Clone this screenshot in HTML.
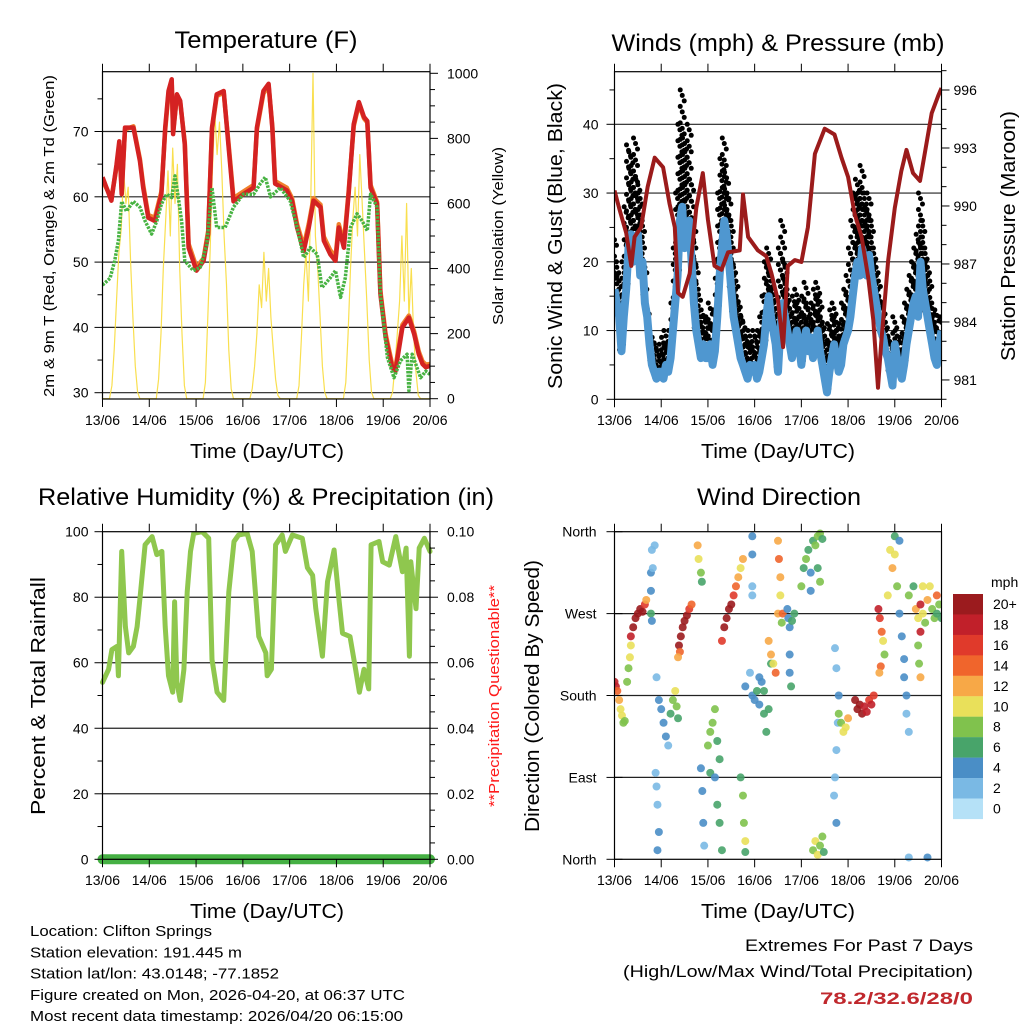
<!DOCTYPE html>
<html><head><meta charset="utf-8"><style>
html,body{margin:0;padding:0;background:#fff;}
svg{display:block;font-family:"Liberation Sans",Arial,sans-serif;}
</style></head><body>
<svg id="c" width="1024" height="1024" viewBox="0 0 1024 1024" xmlns="http://www.w3.org/2000/svg">
<defs>
<clipPath id="cpT"><rect x="102.5" y="71.7" width="327.5" height="327.3"/></clipPath>
<clipPath id="cpW"><rect x="614.5" y="71.7" width="327" height="327.6"/></clipPath>
<clipPath id="cpR"><rect x="92" y="531.7" width="347" height="335"/></clipPath>
<clipPath id="cpD"><rect x="614.5" y="528" width="327" height="335"/></clipPath>
</defs>
<g id="layer"></g>
</svg>
<script>
// ---------- DATA ----------
const dayLabels = ["13/06","14/06","15/06","16/06","17/06","18/06","19/06","20/06"];
// Temperature (F)
const tempTimes = [0,0.19,0.3,0.36,0.41,0.48,0.66,0.8,0.87,0.98,1.12,1.26,1.34,1.41,1.48,1.51,1.59,1.66,1.76,1.84,2.01,2.16,2.26,2.34,2.44,2.59,2.69,2.8,3.01,3.23,3.3,3.44,3.55,3.63,3.69,3.94,4.05,4.16,4.3,4.41,4.51,4.66,4.73,4.87,4.98,5.05,5.16,5.26,5.37,5.48,5.59,5.66,5.73,5.87,5.94,6.05,6.19,6.26,6.41,6.55,6.66,6.76,6.84,6.91,7.0];
const temp2m = [63,59.4,64.9,68.5,60.4,70.6,70.6,65.5,61.4,56.8,56.3,60.4,70.6,76.2,78,69.6,75.7,74.7,68,52.2,48.7,50.2,54.3,70.6,75.7,76.2,68,59.3,60.4,61.4,70.6,76.2,77.3,70.6,62,61,59.4,55.3,51.7,55.3,59.4,58.4,53.3,51.2,50.2,55.3,52.2,60.4,71.1,74.5,72.2,71.6,61.4,58.9,45.1,38.5,33.9,33.3,40,41.5,39,35.9,34.4,33.9,34.1];
const temp9m = [62.5,59.8,64.5,68,61,70.3,70.8,65.8,61.8,57.2,56.8,60.8,70.2,75.8,77.6,70,75.3,74.5,68.3,52.8,49.2,50.6,54.8,70.3,75.4,76,68.4,59.8,60.8,61.8,70.3,75.8,77,70.9,62.4,61.4,59.8,55.8,52.4,55.9,59.8,58.8,53.9,51.8,50.8,55.8,52.8,60.8,70.8,74.2,72,71.4,61.8,59.2,45.6,39,34.4,33.8,40.4,41.8,39.4,36.3,34.8,34.3,34.4];
const dewTimes = [0,0.16,0.26,0.34,0.41,0.51,0.66,0.8,0.91,1.05,1.16,1.26,1.37,1.48,1.55,1.62,1.69,1.76,1.94,2.09,2.23,2.34,2.44,2.62,2.8,3.01,3.23,3.37,3.48,3.59,3.8,4.01,4.16,4.3,4.44,4.59,4.69,4.87,4.98,5.09,5.19,5.3,5.44,5.55,5.66,5.73,5.87,5.94,6.09,6.23,6.37,6.51,6.55,6.62,6.8,6.91,7.0];
const dew2m = [46.5,47.5,50.2,53.3,59.3,57.8,59.3,58.4,56.3,54.3,56.3,58.9,60.4,59.9,63.2,59.9,56.3,50.2,48.7,49.2,52.7,61.4,55.3,55.3,58.4,60.4,60.4,62,63,60,61.4,59.4,55.3,50.7,52.2,51.2,46.1,47.6,48.7,44.6,47.6,55.3,57.4,56.3,54.8,60.4,58.4,45.1,35.4,32.3,34.9,35.9,30.3,35.9,32.3,33.3,32.8];
// Solar insolation, one value every 0.05 day (W/m2)
const solar = [
0,0,0,0,40,150,300,450,520,700,600,650,420,250,100,20,0,0,0,0,
0,0,0,0,60,200,400,550,700,500,770,600,720,400,200,40,0,0,0,0,
0,0,0,0,50,250,450,700,880,750,850,700,500,350,150,30,0,0,0,0,
0,0,0,0,30,100,200,350,280,450,300,400,250,150,60,10,0,0,0,0,
0,0,0,0,40,180,350,450,300,600,1000,500,400,250,100,20,0,0,0,0,
0,0,0,0,50,200,400,550,650,500,750,600,450,300,120,20,0,0,0,0,
0,0,0,0,20,100,200,300,500,300,600,250,400,200,80,10,0,0,0,0,0];
// Wind (mph), one value every 0.05 day
const windSpd = [
16,14,12,7,12,16,22,24,20,23,24,18,20,14,12,8,5,4,3,4,
4,3,5,4,6,10,14,18,26,28,22,24,26,20,14,10,8,6,8,6,
6,8,5,7,12,18,22,26,24,20,16,12,10,8,6,5,4,3,5,4,
5,3,4,6,8,12,15,12,10,8,4,10,14,12,10,8,6,8,10,8,
5,8,10,7,9,6,8,10,7,5,3,1,4,6,8,6,4,5,8,9,
10,12,15,18,20,18,22,20,18,21,18,16,14,12,10,9,7,6,4,2,
8,6,4,3,5,8,10,12,14,15,12,20,16,14,12,10,8,6,5,8,10];
const windGust = [
24,20,18,12,20,28,37,36,34,38,32,30,26,20,14,10,8,9,8,7,
8,9,10,8,10,14,22,30,40,45,38,36,40,32,26,20,16,12,13,12,
12,14,11,13,20,30,35,38,33,30,26,20,18,15,13,12,10,9,10,8,
10,9,10,12,15,20,22,18,16,14,12,22,26,20,16,14,12,15,16,14,
12,15,17,14,12,14,16,17,15,12,10,8,11,13,14,12,10,11,14,16,
18,22,26,30,32,30,34,30,28,30,26,22,20,18,15,14,12,10,9,8,
12,10,8,9,12,14,16,18,20,22,24,30,26,22,20,18,14,12,13,10,12];
// Station pressure (mb)
const presTimes = [0,0.11,0.25,0.36,0.43,0.57,0.71,0.86,1.04,1.18,1.29,1.36,1.46,1.61,1.75,1.89,2.0,2.14,2.29,2.43,2.68,2.75,2.86,3.07,3.25,3.36,3.5,3.61,3.71,3.86,4.0,4.14,4.29,4.5,4.71,4.86,5.0,5.14,5.29,5.43,5.54,5.64,5.71,5.86,6.0,6.14,6.25,6.39,6.54,6.64,6.79,6.93,7.0];
const pressure = [990.8,989.8,988.6,986.9,988.4,988.9,991,992.5,992,990.1,988.9,985.5,985.3,986.5,989.9,991.7,989.3,986.9,986.7,987.6,987.7,990.6,988.4,987.7,987.4,986.5,985.1,982.7,986.9,987.2,987.1,988.9,992.7,994,993.7,992.5,991.5,989.6,988.4,986.3,984.1,980.6,982.9,987.2,989.9,991.8,992.9,991.7,991.3,992.7,994.8,995.7,996.1];
// Relative humidity (%)
const rhTimes = [0,0.13,0.2,0.31,0.34,0.41,0.49,0.56,0.66,0.74,0.81,0.91,1.06,1.16,1.27,1.34,1.41,1.5,1.54,1.59,1.66,1.74,1.81,1.88,1.95,2.13,2.27,2.34,2.45,2.59,2.7,2.81,2.91,3.09,3.2,3.34,3.49,3.52,3.61,3.68,3.7,3.84,3.91,4.06,4.27,4.38,4.49,4.56,4.7,4.81,4.95,5.06,5.13,5.29,5.41,5.49,5.59,5.69,5.74,5.91,5.99,6.13,6.27,6.41,6.49,6.56,6.59,6.7,6.77,6.88,7.0];
const rh = [54,58,64,65,56,94,71,63,65,71,81,96,98.5,93,94,71,56,51,78.6,54,48.5,58,81.6,94,99.5,100,98,61,51,48.5,81.6,97,99,99.5,94,68,63,56,58,86.7,96,99,94,99,98,89,86.7,76.5,62,84.7,94.4,78.6,69,68,58,51,58,52,96,97,90.8,89.8,98.5,87.8,95,62,90.8,76.5,95,98,94];
const precipTimes = [0,7];
const precip = [0,0];
// Wind direction scatter
const dirTime = [0,0.03,0.06,0.1,0.13,0.16,0.19,0.22,0.27,0.3,0.33,0.35,0.35,0.4,0.45,0.5,0.55,0.6,0.65,0.68,0.78,0.78,0.78,0.8,0.8,0.82,0.86,0.9,0.95,1.0,1.05,1.1,1.15,1.2,1.25,1.3,1.33,1.36,0.88,0.9,0.92,0.95,0.92,1.38,1.42,1.46,1.5,1.55,1.6,1.65,1.4,1.36,1.78,1.8,1.85,1.87,1.85,1.88,1.9,1.92,2.0,2.05,2.1,2.15,2.2,2.25,2.05,2.15,2.2,2.25,2.3,2.3,2.35,2.4,2.45,2.5,2.55,2.6,2.65,2.7,2.75,2.7,2.75,2.77,2.8,2.8,2.8,2.9,2.95,3.0,3.05,3.1,3.15,3.2,3.1,3.2,3.25,3.3,3.35,2.95,2.95,2.95,2.95,3.3,3.35,3.4,3.45,3.5,3.52,3.55,3.55,3.5,3.6,3.58,3.7,3.72,3.75,3.8,3.85,3.75,3.75,3.78,4.0,4.05,4.1,4.15,4.2,4.25,4.3,4.35,4.4,4.45,4.35,4.4,4.2,4.72,4.75,4.8,4.78,4.75,4.72,4.7,4.75,4.25,4.3,4.35,4.4,4.45,4.48,4.8,4.85,4.9,4.95,5.0,5.15,5.2,5.25,5.3,5.35,5.4,5.45,5.5,5.55,5.65,5.68,5.72,5.75,5.78,5.7,5.67,5.9,5.95,6.0,6.05,5.85,6.0,6.1,6.1,6.15,6.2,6.2,6.25,6.25,6.3,6.3,6.4,6.45,6.5,6.55,6.6,6.65,6.7,6.75,6.8,6.85,6.9,6.95,7.0,6.9,6.55,6.6,6.3,6.7,6.5,6.52,6.55];
const dirDeg = [195,190,185,175,165,158,150,152,195,210,222,235,245,255,265,270,275,272,280,285,315,295,270,262,340,320,345,200,175,165,150,135,125,160,175,185,168,155,95,80,60,30,10,235,245,255,262,268,275,280,228,222,345,330,315,305,100,75,40,15,125,140,150,165,130,110,95,90,60,40,10,240,255,265,275,280,290,300,310,320,330,90,70,40,20,8,190,205,180,175,185,200,195,185,170,160,140,165,215,355,335,300,290,240,225,215,205,350,330,310,290,270,270,260,275,265,255,262,270,225,205,190,300,320,330,340,315,350,345,355,358,352,320,305,295,232,210,180,150,120,90,70,40,10,20,5,15,25,8,160,150,140,145,155,175,165,170,160,168,162,175,170,180,275,265,250,240,225,212,205,340,320,335,300,290,355,350,270,245,220,200,180,160,140,290,300,275,265,280,270,260,285,300,275,265,270,280,265,290,250,300,2,2,235,215,200];
const dirSpeed = [18,18,14,12,10,10,8,8,8,8,10,10,18,20,20,20,20,20,16,12,4,4,6,4,2,2,2,2,4,4,4,4,2,6,8,10,8,6,2,2,2,4,4,20,20,20,20,20,16,14,14,12,12,10,8,6,4,4,4,2,8,8,8,8,6,6,6,4,6,6,6,16,20,20,20,20,16,14,12,10,12,6,8,8,10,6,4,2,4,4,6,4,4,6,4,6,6,6,6,4,4,2,2,12,12,10,14,12,14,12,10,12,14,8,4,4,4,6,6,4,4,6,8,6,8,6,4,6,8,8,8,6,6,8,4,2,2,4,2,2,2,2,4,8,10,10,8,8,6,8,8,10,10,12,20,20,20,20,18,18,16,18,16,18,16,14,10,8,14,12,10,12,10,8,10,6,4,4,4,4,4,4,2,2,8,6,12,10,18,10,8,12,10,8,8,6,8,6,14,18,10,2,4,8,8,12];
const speedLabels = ["20+","18","16","14","12","10","8","6","4","2","0"];
const speedColors = ["#9b1b1e","#c1202a","#e03a2b","#f0652c","#f7a847","#e9e05a","#80c24d","#48a46a","#4a8ec6","#7ab9e4","#b5e1f7"];
const extremes = "78.2/32.6/28/0";

// ---------- HELPERS ----------
const NS = "http://www.w3.org/2000/svg";
const layer = document.getElementById("layer");
function mk(tag, attrs, parent){
  const e = document.createElementNS(NS, tag);
  for (const k in attrs) e.setAttribute(k, attrs[k]);
  (parent || layer).appendChild(e);
  return e;
}
function txt(str, x, y, opts, parent){
  const e = mk("text", {x:x, y:y, "font-size":opts.size||15, "text-anchor":opts.anchor||"start", fill:opts.fill||"#000"}, parent);
  if (opts.bold) e.setAttribute("font-weight","bold");
  if (opts.len){ e.setAttribute("textLength", opts.len); e.setAttribute("lengthAdjust","spacingAndGlyphs"); }
  if (opts.rot) e.setAttribute("transform","rotate(-90 "+x+" "+y+")");
  e.textContent = str;
  return e;
}
function linePath(xs, ys){ let d=""; for(let i=0;i<xs.length;i++){ d += (i?"L":"M")+xs[i].toFixed(1)+","+ys[i].toFixed(1);} return d; }

// ---------- PANEL GEOMETRY ----------
const LX0 = 102.5, LX1 = 430, RX0 = 614.5, RX1 = 941.5;
const xL = t => LX0 + t*(LX1-LX0)/7;
const xR = t => RX0 + t*(RX1-RX0)/7;
const yTemp = v => 392.7 - (v-30)*6.53;
const ySolar = v => 398.7 - v*0.3254;
const yWind = v => 399.3 - v*6.875;
const yPres = v => 90 + (996 - v)*19.33;
const yRH = v => 859.3 - v*3.276;
const yPrecip = v => 859.3 - v*3276;
const yDir = v => 859.3 - v*(327.6/360);

function frame(x0,y0,x1,y1,name){
  const r = mk("rect",{x:x0,y:y0,width:x1-x0,height:y1-y0,fill:"none",stroke:"#000","stroke-width":1.2});
  
  
}
function xTicks(xf, yTop, yBot, labelY, g){
  for(let i=0;i<dayLabels.length;i++){
    const x = xf(i);
    mk("line",{x1:x,y1:yTop-8,x2:x,y2:yTop,stroke:"#000","stroke-width":1},g);
    mk("line",{x1:x,y1:yBot,x2:x,y2:yBot+8,stroke:"#000","stroke-width":1},g);
    const t = txt(dayLabels[i], x, labelY, {size:14, anchor:"middle"}, g);
    
    
  }
}
function hgrid(y, x0, x1, g){ mk("line",{x1:x0,y1:y,x2:x1,y2:y,stroke:"#222","stroke-width":1.2},g); }

// ================= TEMPERATURE PANEL =================
const gT = mk("g",{});


const tTitle = txt("Temperature (F)", 266, 48, {size:24, anchor:"middle", len:183}, gT);


[30,40,50,60,70].forEach(v=>hgrid(yTemp(v), LX0, LX1, gT));
const plotT = mk("g",{"clip-path":"url(#cpT)"},gT);
const solX = solar.map((v,i)=>xL(i*0.05));
const solY = solar.map(v=>ySolar(v));
const solLine = mk("path",{d:linePath(solX,solY),fill:"none",stroke:"#f8dc3c","stroke-width":1.2,"stroke-linejoin":"round","opacity":0.9},plotT);


const orng = mk("path",{d:linePath(tempTimes.map(xL),temp9m.map(yTemp)),fill:"none",stroke:"#f0802c","stroke-width":4.5,"stroke-linejoin":"round"},plotT);


const redL = mk("path",{d:linePath(tempTimes.map(xL),temp2m.map(yTemp)),fill:"none",stroke:"#d42222","stroke-width":4.5,"stroke-linejoin":"round"},plotT);


const dewL = mk("path",{d:linePath(dewTimes.map(xL),dew2m.map(yTemp)),fill:"none",stroke:"#48b343","stroke-width":3.5,"stroke-dasharray":"2.5 1.2","stroke-linejoin":"round"},plotT);


frame(LX0,71.7,LX1,399,'temperature-plot-frame');
xTicks(xL,71.7,399,425,gT);
[30,40,50,60,70].forEach(v=>{
  mk("line",{x1:LX0-8,y1:yTemp(v),x2:LX0,y2:yTemp(v),stroke:"#000"},gT);
  const l = txt(String(v), LX0-14, yTemp(v)+5, {size:14, anchor:"end"}, gT);
  
  
});
[35,45,55,65,75].forEach(v=>mk("line",{x1:LX0-5,y1:yTemp(v),x2:LX0,y2:yTemp(v),stroke:"#000"},gT));
for(let v=0; v<=1000; v+=50){
  mk("line",{x1:LX1,y1:ySolar(v),x2:LX1+(v%200===0?8:5),y2:ySolar(v),stroke:"#000"},gT);
  if(v%200===0){
    const l = txt(String(v), LX1+17, ySolar(v)+5, {size:14}, gT);
    
    
  }
}
const tyl = txt("2m & 9m T (Red, Orange) & 2m Td (Green)", 54, 236, {size:15, anchor:"middle", rot:true, len:322}, gT);


const tyr = txt("Solar Insolation (Yellow)", 503, 236, {size:15, anchor:"middle", rot:true, len:178}, gT);


const txa = txt("Time (Day/UTC)", 267, 458, {size:20, anchor:"middle", len:154}, gT);



// ================= WIND PANEL =================
const gW = mk("g",{});


const wTitle = txt("Winds (mph) & Pressure (mb)", 778, 51, {size:24, anchor:"middle", len:333}, gW);


[10,20,30,40].forEach(v=>hgrid(yWind(v), RX0, RX1, gW));
const plotW = mk("g",{"clip-path":"url(#cpW)"},gW);
const gustG = mk("g",{fill:"#000"},plotW);


windGust.forEach((g,i)=>{
  const x = xR(i*0.05);
  const yTop = yWind(g), yLow = yWind(windSpd[i]);
  let k = 0;
  for(let y=yTop; y<yLow; y+=5.5){
    const c = mk("circle",{cx:x+(k%3-1)*2,cy:y,r:2.5},gustG);
    
    
    k++;
  }
});
const windL = mk("path",{d:linePath(windSpd.map((v,i)=>xR(i*0.05)),windSpd.map(yWind)),fill:"none",stroke:"#4f97d0","stroke-width":8,"stroke-linejoin":"round"},plotW);


const presL = mk("path",{d:linePath(presTimes.map(xR),pressure.map(yPres)),fill:"none",stroke:"#9b1b1b","stroke-width":4,"stroke-linejoin":"round"},plotW);


frame(RX0,71.7,RX1,399.3,'wind-plot-frame');
xTicks(xR,71.7,399.3,425,gW);
for(let v=0; v<=45; v+=5){
  mk("line",{x1:RX0-(v%10===0?8:5),y1:yWind(v),x2:RX0,y2:yWind(v),stroke:"#000"},gW);
  if(v%10===0){
    const l = txt(String(v), RX0-16, yWind(v)+5, {size:14, anchor:"end"}, gW);
    
    
  }
}
for(let v=980; v<=997; v+=1){
  const maj = (v-981)%3===0;
  mk("line",{x1:RX1,y1:yPres(v),x2:RX1+(maj?8:5),y2:yPres(v),stroke:"#000"},gW);
  if(maj){
    const l = txt(String(v), RX1+12, yPres(v)+5, {size:14}, gW);
    
    
  }
}
const wyl = txt("Sonic Wind & Gust (Blue, Black)", 562, 236, {size:20, anchor:"middle", rot:true, len:306}, gW);


const wyr = txt("Station Pressure (Maroon)", 1015, 236, {size:20, anchor:"middle", rot:true, len:250}, gW);


const wxa = txt("Time (Day/UTC)", 778, 458, {size:20, anchor:"middle", len:154}, gW);



// ================= RH PANEL =================
const gR = mk("g",{});


const rTitle = txt("Relative Humidity (%) & Precipitation (in)", 266, 505, {size:24, anchor:"middle", len:456}, gR);


[20,40,60,80].forEach(v=>hgrid(yRH(v), LX0, LX1, gR));
const plotR = mk("g",{"clip-path":"url(#cpR)"},gR);
const rhL = mk("path",{d:linePath(rhTimes.map(xL),rh.map(yRH)),fill:"none",stroke:"#8fc74e","stroke-width":5,"stroke-linejoin":"round","stroke-linecap":"round"},plotR);


const prL = mk("path",{d:linePath(precipTimes.map(xL),precip.map(yPrecip)),fill:"none",stroke:"#45b043","stroke-width":10,"stroke-linecap":"round"},plotR);


frame(LX0,531.7,LX1,859.3,'humidity-plot-frame');
xTicks(xL,531.7,859.3,885,gR);
for(let v=0; v<=100; v+=10){
  mk("line",{x1:LX0-(v%20===0?8:5),y1:yRH(v),x2:LX0,y2:yRH(v),stroke:"#000"},gR);
  if(v%20===0){
    const l = txt(String(v), LX0-14, yRH(v)+5, {size:14, anchor:"end"}, gR);
    
    
  }
}
for(let i=0; i<=20; i++){
  const v = i*0.005;
  mk("line",{x1:LX1,y1:yPrecip(v),x2:LX1+(i%4===0?8:5),y2:yPrecip(v),stroke:"#000"},gR);
  if(i%4===0){
    const l = txt(v.toFixed(2), LX1+17, yPrecip(v)+5, {size:14}, gR);
    
    
  }
}
const ryl = txt("Percent & Total Rainfall", 45, 696, {size:20, anchor:"middle", rot:true, len:238}, gR);


const ryr = txt("**Precipitation Questionable**", 499, 696, {size:15, anchor:"middle", rot:true, len:222, fill:"#ff1a1a"}, gR);


const rxa = txt("Time (Day/UTC)", 267, 918, {size:20, anchor:"middle", len:154}, gR);



// ================= WIND DIRECTION PANEL =================
const gD = mk("g",{});


const dTitle = txt("Wind Direction", 779, 505, {size:24, anchor:"middle", len:164}, gD);


[90,180,270].forEach(v=>hgrid(yDir(v), RX0, RX1, gD));
const plotD = mk("g",{"clip-path":"url(#cpD)"},gD);
dirTime.forEach((t,i)=>{
  const idx = Math.max(0, 10 - Math.min(10, Math.floor(dirSpeed[i]/2)));
  const c = mk("circle",{cx:xR(t),cy:yDir(dirDeg[i]),r:4,fill:speedColors[idx],"fill-opacity":0.9},plotD);
  
  
});
frame(RX0,531.7,RX1,859.3,'direction-plot-frame');
xTicks(xR,531.7,859.3,885,gD);
const dirNames = ["North","East","South","West","North"];
[0,90,180,270,360].forEach((v,i)=>{
  mk("line",{x1:RX0-8,y1:yDir(v),x2:RX0+8,y2:yDir(v),stroke:"#000"},gD);
  const l = txt(dirNames[i], RX0-18, yDir(v)+5, {size:14, anchor:"end"}, gD);
  
  
});
const dyl = txt("Direction (Colored By Speed)", 539, 696, {size:20, anchor:"middle", rot:true, len:272}, gD);


const dxa = txt("Time (Day/UTC)", 778, 918, {size:20, anchor:"middle", len:154}, gD);


// colorbar
const gC = mk("g",{});


const mph = txt("mph", 991, 587, {size:14}, gC);


speedLabels.forEach((s,i)=>{
  const y = 594 + i*20.45;
  const r = mk("rect",{x:953,y:y,width:30,height:20.6,fill:speedColors[i]},gC);
  
  
  const l = txt(s, 993, y+15, {size:14}, gC);
  
  
});

// ================= FOOTER TEXT =================
const info = [
 ["Location: Clifton Springs",182],
 ["Station elevation: 191.445 m",212],
 ["Station lat/lon: 43.0148; -77.1852",249],
 ["Figure created on Mon, 2026-04-20, at 06:37 UTC",375],
 ["Most recent data timestamp: 2026/04/20 06:15:00",373]];
info.forEach((r,i)=>{
  const l = txt(r[0], 30, 936+i*21.3, {size:15, len:r[1]});
  
  
});
const e1 = txt("Extremes For Past 7 Days", 973, 951, {size:17, anchor:"end", len:228});


const e2 = txt("(High/Low/Max Wind/Total Precipitation)", 973, 977, {size:17, anchor:"end", len:350});


const e3 = txt(extremes, 973, 1004, {size:17, anchor:"end", len:153, bold:true, fill:"#c0282d"});


</script>
</body></html>
